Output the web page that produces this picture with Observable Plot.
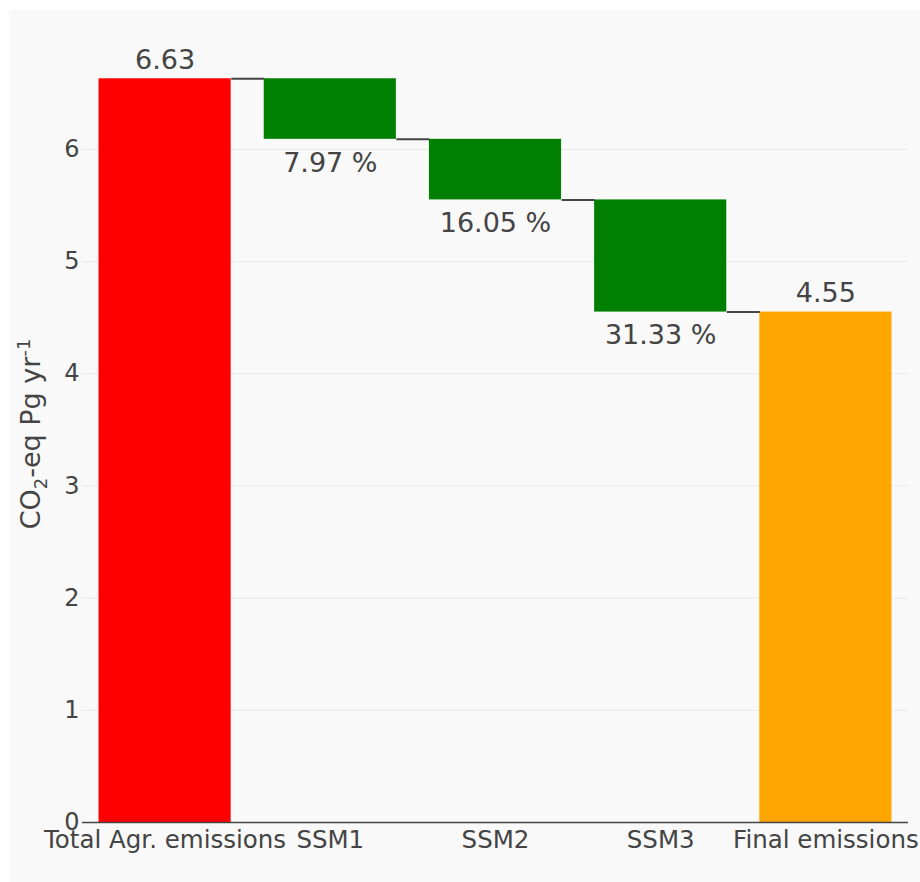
<!DOCTYPE html>
<html><head><meta charset="utf-8">
<script src="https://cdn.jsdelivr.net/npm/d3@7"></script>
<script src="https://cdn.jsdelivr.net/npm/@observablehq/plot@0.6"></script>
<style>
body{margin:0;background:#fff;}
#panel{position:absolute;left:9px;top:10px;width:911px;height:872px;background:#f9f9f9;overflow:hidden;}
</style></head><body><div id="panel"></div>
<script>
const categories = ["Total Agr. emissions", "SSM1", "SSM2", "SSM3", "Final emissions"];
const totalValue = 6.63;
const stepDeltas = [-0.54, -0.54, -1.00];
const stepPercents = [7.97, 16.05, 31.33];
const finalValue = 4.55;
const yTicks = [0, 1, 2, 3, 4, 5, 6];
const xTicks = [0, 1, 2, 3, 4];
const colors = {total: "#ff0000", decrease: "#008000", final: "#ffa500"};

// waterfall table
const rows = [];
let level = totalValue;
rows.push({i: 0, y1: 0, y2: totalValue, end: totalValue, kind: "total", label: totalValue.toFixed(2), above: true});
stepDeltas.forEach((d, k) => {
  const start = level;
  level = +(level + d).toFixed(2);
  rows.push({i: k + 1, y1: level, y2: start, end: level, kind: "decrease", label: stepPercents[k].toFixed(2) + " %", above: false});
});
rows.push({i: 4, y1: 0, y2: finalValue, end: finalValue, kind: "final", label: finalValue.toFixed(2), above: true});
const connectors = rows.slice(0, -1).map(r => ({x1: r.i + 0.4, x2: r.i + 0.6, y: r.end}));

const font = "'DejaVu Sans', Verdana, sans-serif";
const chart = Plot.plot({
  width: 911, height: 872,
  marginLeft: 73, marginRight: 12, marginTop: 29, marginBottom: 60,
  style: {fontFamily: font, fontSize: "24px", color: "#444", background: "transparent", overflow: "visible"},
  x: {type: "linear", domain: [-0.5, 4.5]},
  y: {domain: [0, 6.98]},
  marks: [
    Plot.gridY(yTicks.filter(t => t > 0), {stroke: "#e8e8e8", strokeOpacity: 1, strokeWidth: 1}),
    Plot.rectY(rows, {x1: d => d.i - 0.4, x2: d => d.i + 0.4, y1: "y1", y2: "y2", fill: d => colors[d.kind]}),
    Plot.link(connectors, {x1: "x1", x2: "x2", y1: "y", y2: "y", stroke: "#444", strokeWidth: 2}),
    Plot.ruleY([0], {stroke: "#444", strokeWidth: 1.5}),
    Plot.text(rows.filter(d => d.above), {x: "i", y: "y2", text: "label", dy: -10, lineAnchor: "bottom", fill: "#444", fontSize: 27}),
    Plot.text(rows.filter(d => !d.above), {x: "i", y: "y1", text: "label", dy: 13, lineAnchor: "top", fill: "#444", fontSize: 27}),
    Plot.axisY({ticks: yTicks, tickFormat: d3.format("d"), tickSize: 0, tickPadding: 3, label: null, fontSize: 24}),
    Plot.axisX({ticks: xTicks, tickFormat: i => categories[i], tickSize: 0, tickPadding: 8, label: null, fontSize: 24.5})
  ]
});
document.getElementById("panel").appendChild(chart);

// y-axis title with subscript / superscript
const svg = d3.select(chart);
const t = svg.append("text")
  .attr("transform", "translate(31,424) rotate(-90)")
  .attr("text-anchor", "middle")
  .attr("fill", "#444")
  .attr("font-family", font)
  .attr("font-size", 27);
t.append("tspan").text("CO");
t.append("tspan").attr("dy", 7).attr("font-size", 18).text("2");
t.append("tspan").attr("dy", -7).text("-eq Pg yr");
t.append("tspan").attr("dy", -10).attr("font-size", 18).text("-1");
</script></body></html>
